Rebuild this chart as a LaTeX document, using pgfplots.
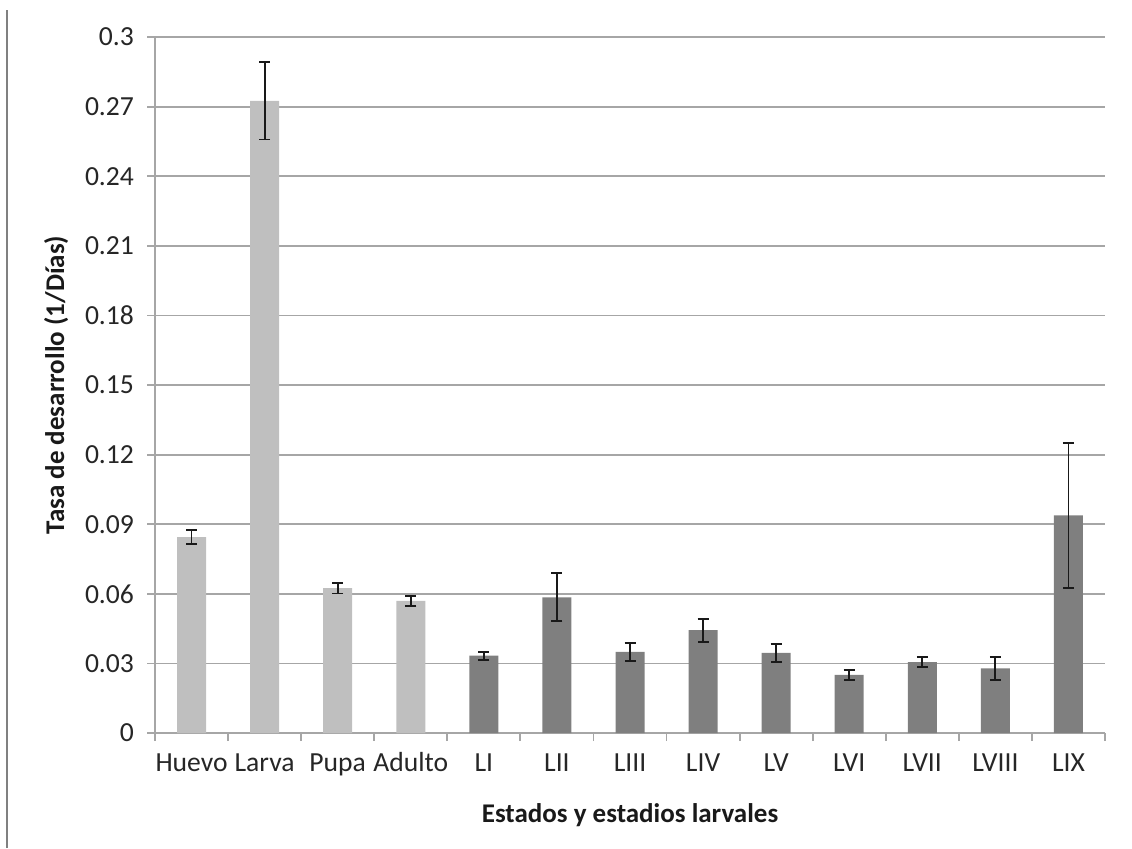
\documentclass[border=0pt]{standalone}
\usepackage{fontspec}
\setmainfont{Carlito}
\usepackage{pgfplots}
\pgfplotsset{compat=1.18}

\definecolor{lightbar}{HTML}{BFBFBF}
\definecolor{darkbar}{HTML}{7F7F7F}
\definecolor{gridgray}{HTML}{A6A6A6}

\begin{document}
\begin{tikzpicture}
\useasboundingbox (0,0) rectangle (566pt,424pt);
% page edge line on the left
\draw[gray, line width=1pt] (3.5pt,0) -- (3.5pt,419pt);

\begin{axis}[
    at={(77.5pt,57.5pt)}, anchor=south west,
    scale only axis,
    width=475pt, height=348pt,
    xmin=-0.5, xmax=12.5,
    ymin=0, ymax=0.3,
    axis lines*=left,
    axis line style={-, gridgray, line width=0.9pt},
    ytick={0,0.03,0.06,0.09,0.12,0.15,0.18,0.21,0.24,0.27,0.3},
    yticklabels={0,0.03,0.06,0.09,0.12,0.15,0.18,0.21,0.24,0.27,0.3},
    ymajorgrids,
    major grid style={gridgray, line width=0.9pt},
    xtick={0,...,12},
    xticklabels={Huevo,Larva,Pupa,Adulto,LI,LII,LIII,LIV,LV,LVI,LVII,LVIII,LIX},
    major x tick style={draw=none},
    minor xtick={-0.5,0.5,...,12.5},
    minor x tick style={gridgray, line width=0.9pt},
    y tick style={gridgray, line width=0.9pt},
    tick align=outside,
    major tick length=4pt, minor tick length=4pt,
    tick label style={font=\fontsize{13.8}{15}\selectfont, text=black!85},
    yticklabel style={xshift=-3pt},
    xticklabel style={yshift=-5pt, text height=1.45ex, text depth=0.3ex},
    xlabel={\bfseries Estados y estadios larvales},
    ylabel={\bfseries Tasa de desarrollo (1/Días)},
    label style={font=\fontsize{13.5}{15}\selectfont, text=black!90},
    xlabel style={at={(axis description cs:0.5,-0.118)}, anchor=center},
    ylabel style={at={(axis description cs:-0.104,0.5)}, anchor=center},
    ybar, bar width=14.5pt, bar shift=0pt,
    error bars/y dir=both, error bars/y explicit,
    error bars/error bar style={black!90, line width=0.9pt},
    error bars/error mark options={rotate=90, black!90, line width=0.9pt, mark size=2.75pt},
]
\addplot[fill=lightbar, draw=none] coordinates {
    (0,0.0844) +- (0,0.0030)
    (1,0.2725) +- (0,0.0167)
    (2,0.0624) +- (0,0.0023)
    (3,0.0569) +- (0,0.0022)
};
\addplot[fill=darkbar, draw=none] coordinates {
    (4,0.0333) +- (0,0.0017)
    (5,0.0585) +- (0,0.0103)
    (6,0.0350) +- (0,0.0039)
    (7,0.0443) +- (0,0.0050)
    (8,0.0345) +- (0,0.0039)
    (9,0.0251) +- (0,0.0022)
    (10,0.0306) +- (0,0.0023)
    (11,0.0279) +- (0,0.0050)
    (12,0.0938) +- (0,0.0313)
};
\end{axis}
\end{tikzpicture}
\end{document}
